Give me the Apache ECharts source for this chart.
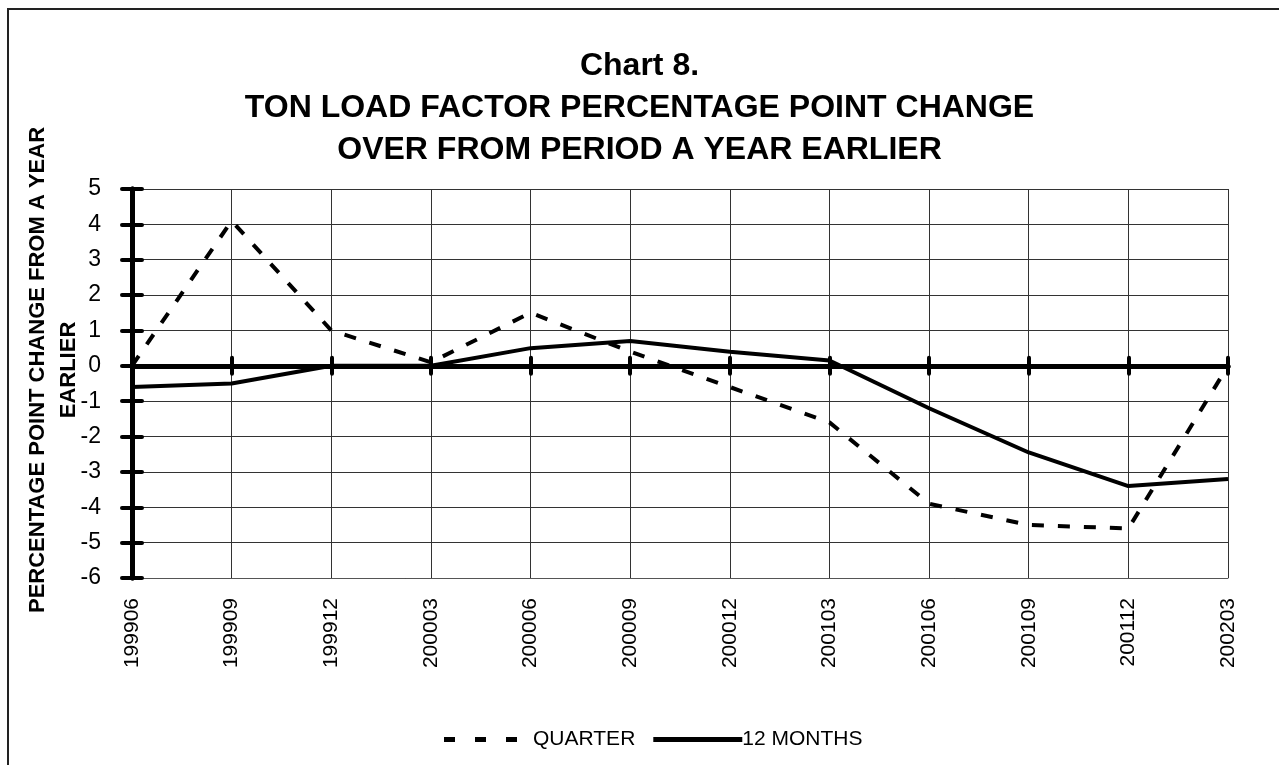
<!DOCTYPE html>
<html>
<head>
<meta charset="utf-8">
<script src="https://cdn.jsdelivr.net/npm/echarts@6/dist/echarts.min.js"></script>
<style>
html,body{margin:0;padding:0;background:#fff;}
#chart{width:1279px;height:765px;}
</style>
</head>
<body>
<div id="chart"></div>
<script>
// periods (yyyymm)
var periods=["199906","199909","199912","200003","200006","200009","200012","200103","200106","200109","200112","200203"];
// percentage point change, quarter
var quarter=[0,4.1,1.0,0.1,1.5,0.4,-0.6,-1.6,-3.9,-4.5,-4.6,0];
// percentage point change, 12 months
var twelveMonths=[-0.6,-0.5,0,0,0.5,0.7,0.4,0.15,-1.2,-2.45,-3.4,-3.2];

var font="Liberation Sans, Arial, sans-serif";
var chart=echarts.init(document.getElementById("chart"));

var option={
	backgroundColor:"#fff",
	animation:false,
	title:{
		text:"Chart 8.\nTON LOAD FACTOR PERCENTAGE POINT CHANGE\nOVER FROM PERIOD A YEAR EARLIER",
		left:"center",
		top:40,
		textStyle:{fontFamily:font,fontSize:32,fontWeight:"bold",color:"#000",lineHeight:42}
	},
	graphic:[{
		type:"rect",
		shape:{x:8,y:9,width:1300,height:800},
		style:{fill:"none",stroke:"#222",lineWidth:2},
		silent:true
	},{
		//y axis title
		type:"text",
		x:53,
		y:370,
		rotation:Math.PI/2,
		silent:true,
		style:{
			text:"PERCENTAGE POINT CHANGE FROM A YEAR\nEARLIER",
			font:"bold 22px "+font,
			lineHeight:31,
			align:"center",
			verticalAlign:"middle",
			fill:"#000"
		}
	}],
	legend:{
		left:444,
		top:729,
		padding:0,
		itemWidth:89,
		itemHeight:5,
		itemGap:18,
		textStyle:{fontFamily:font,fontSize:21,color:"#000",padding:[0,0,0,-5]},
		data:[
			{name:"QUARTER",icon:"path://M0,0h11v5h-11z M31,0h11v5h-11z M62,0h11v5h-11z M88.9,2.5h0.1v0.01h-0.1z"},
			{name:"12 MONTHS",icon:"rect"}
		]
	},
	grid:{left:132,right:51,top:189,bottom:187},
	xAxis:[{
		type:"category",
		data:periods,
		boundaryGap:false,
		position:"bottom",
		axisLine:{onZero:false,lineStyle:{color:"#555",width:1}},
		axisTick:{show:false},
		axisLabel:{rotate:90,margin:20,fontFamily:font,fontSize:21,color:"#000"},
		splitLine:{show:true,lineStyle:{color:"#333",width:1}}
	},{
		// zero line with marks below
		type:"category",
		data:periods,
		boundaryGap:false,
		position:"bottom",
		axisLine:{onZero:true,lineStyle:{color:"#000",width:5}},
		axisTick:{show:true,inside:false,length:8,lineStyle:{color:"#000",width:4,cap:"round"}},
		axisLabel:{show:false},
		splitLine:{show:false}
	},{
		// marks above zero line
		type:"category",
		data:periods,
		boundaryGap:false,
		position:"bottom",
		axisLine:{onZero:true,lineStyle:{color:"#000",width:5}},
		axisTick:{show:true,inside:true,length:8,lineStyle:{color:"#000",width:4,cap:"round"}},
		axisLabel:{show:false},
		splitLine:{show:false}
	}],
	yAxis:[{
		type:"value",
		min:-6,
		max:5,
		interval:1,
		position:"left",
		axisLine:{show:true,onZero:false,lineStyle:{color:"#000",width:5}},
		axisTick:{show:true,length:10,lineStyle:{color:"#000",width:4,cap:"round"}},
		axisLabel:{margin:31,fontFamily:font,fontSize:23,color:"#000"},
		splitLine:{show:true,lineStyle:{color:"#333",width:1}}
	},{
		type:"value",
		min:-6,
		max:5,
		interval:1,
		position:"left",
		axisLine:{show:true,onZero:false,lineStyle:{color:"#000",width:5}},
		axisTick:{show:true,inside:true,length:10,lineStyle:{color:"#000",width:4,cap:"round"}},
		axisLabel:{show:false},
		splitLine:{show:false}
	}],
	series:[{
		name:"QUARTER",
		type:"line",
		data:quarter,
		symbol:"none",
		color:"#000",
		lineStyle:{color:"#000",width:4,type:[12,14]}
	},{
		name:"12 MONTHS",
		type:"line",
		data:twelveMonths,
		symbol:"none",
		color:"#000",
		lineStyle:{color:"#000",width:4}
	}]
};
chart.setOption(option);
</script>
</body>
</html>
